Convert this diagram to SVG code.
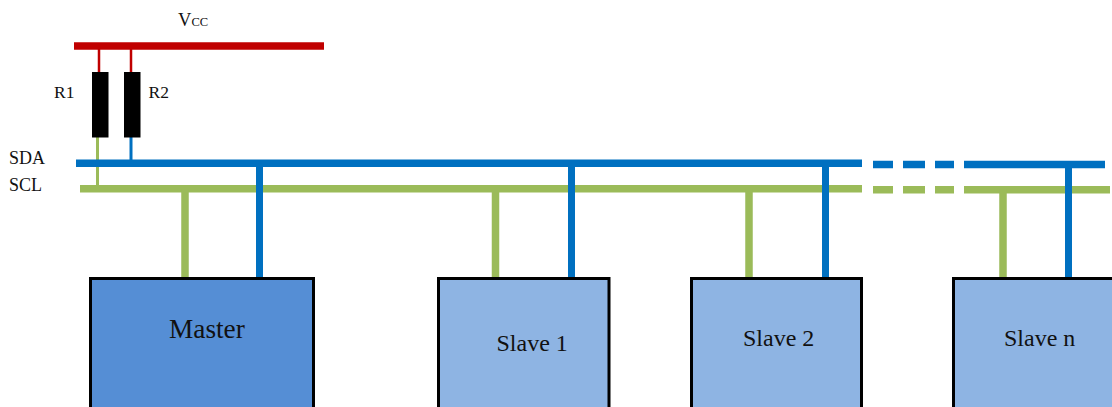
<svg xmlns="http://www.w3.org/2000/svg" width="1112" height="407" viewBox="0 0 1112 407">
<style>
.t{font-family:"Liberation Serif","Times New Roman",serif;fill:#111}
.s{font-size:17.500px}
.l{font-size:24px}
.box{stroke:#000;stroke-width:3}
.red{stroke:#c00000;fill:none}
.blue{stroke:#0070c0;fill:none}
.green{stroke:#9bbb59;fill:none}
.res{fill:#000}
</style>
<rect width="1112" height="407" fill="#fff"/>
<g id="connectors">
<path class="red" stroke-width="7.500" d="M74 46H324"/>
<path class="red" stroke-width="2.500" d="M99 46V72M131 46V72"/>
<path class="green" stroke-width="3" d="M97.500 137V187"/>
<path class="blue" stroke-width="3" d="M131 137V162"/>
<path class="blue" stroke-width="7.500" d="M76 163.300H862M873 164.500H893M903 164.500H925M935 164.500H954M964 164.500H1105"/>
<path class="green" stroke-width="7.500" d="M80 188.800H862M873 189.800H893M903 189.800H925M935 189.800H954M964 189.800H1110"/>
<path class="green" stroke-width="7.500" d="M185 189V277M495.500 189V277M749 189V277M1003 189V277"/>
<path class="blue" stroke-width="7" d="M259.500 164V277M571.500 164V277M825.500 164V277M1068.500 164V277"/>
</g>
<g id="vcc"><text class="t" x="178" y="26" font-size="18.500">V<tspan font-size="12.500">CC</tspan></text></g>
<g id="r1"><rect class="res" x="92" y="72" width="16.500" height="65.500"/><text class="t s" x="54" y="98">R1</text></g>
<g id="r2"><rect class="res" x="124" y="72" width="16.500" height="65.500"/><text class="t s" x="148.500" y="98">R2</text></g>
<g id="sda"><text class="t" font-size="18" x="9" y="163.500">SDA</text></g>
<g id="scl"><text class="t" font-size="18" x="9" y="191">SCL</text></g>
<g id="master"><rect class="box" x="90.500" y="278.500" width="223" height="140" fill="#558ed5"/><text class="t" x="169" y="338" font-size="27.300">Master</text></g>
<g id="slave1"><rect class="box" x="438.500" y="278.500" width="170.500" height="140" fill="#8eb4e3"/><text class="t l" x="496.500" y="351">Slave 1</text></g>
<g id="slave2"><rect class="box" x="691.500" y="278.500" width="170" height="140" fill="#8eb4e3"/><text class="t l" x="743" y="346">Slave 2</text></g>
<g id="slaven"><rect class="box" x="953.500" y="278.500" width="170" height="140" fill="#8eb4e3"/><text class="t l" x="1004" y="346">Slave n</text></g>
</svg>
